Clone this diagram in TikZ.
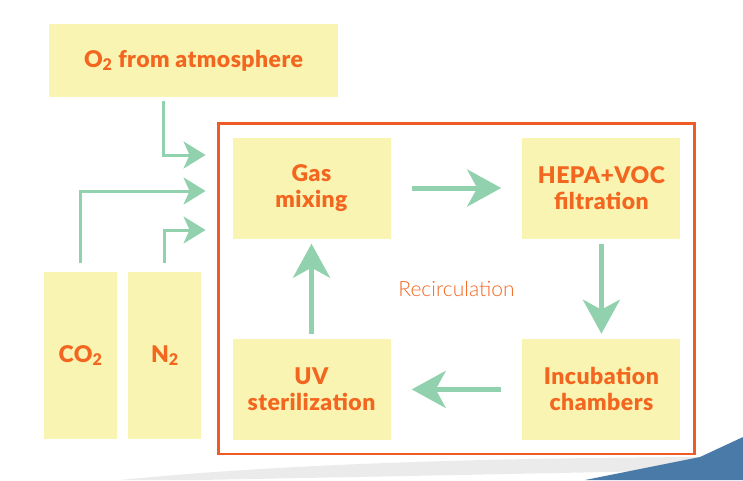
\documentclass[tikz,border=0pt]{standalone}
\usepackage{fontspec}
\setmainfont{Lato}
\newfontfamily\heavyfont[LetterSpace=2]{Lato Black}
\newfontfamily\lightfont{Lato Light}
\usepackage{xcolor}
\usetikzlibrary{arrows.meta, positioning, fit}

\definecolor{boxyellow}{HTML}{FAF4B2}
\definecolor{textorange}{HTML}{F2661F}
\definecolor{frameorange}{HTML}{EE5B24}
\definecolor{arrowgreen}{HTML}{92D1AE}
\definecolor{swooshblue}{HTML}{4A7BA8}

\begin{document}
\begin{tikzpicture}[
    x=1pt, y=-1pt,
    box/.style={rectangle, fill=boxyellow, minimum width=158pt, minimum height=101pt, align=center, text=textorange, font=\fontsize{23}{26}\heavyfont},
    tank/.style={box, minimum width=73pt, minimum height=167pt},
    frame/.style={rectangle, draw=frameorange, line width=2.5pt, inner sep=14pt},
    flow/.style={-{Stealth[length=34pt, width=37pt, inset=10pt]}, line width=5pt, draw=arrowgreen},
    feed/.style={-{Stealth[length=22pt, width=27pt, inset=6pt]}, line width=3pt, draw=arrowgreen}
]
    \useasboundingbox (0,0) rectangle (743,480);
    % slide background
    \fill[black!8] (120,480) .. controls (300,462) and (520,458) .. (700,457) -- (700,470) .. controls (520,474) and (300,478) .. (200,480) -- cycle;
    \fill[swooshblue] (585,480) -- (700,457) -- (743,437) -- (743,480) -- cycle;

    \node[box, minimum width=289pt, minimum height=73pt] (o2) at (193.5,60.5) {O\textsubscript{2} from atmosphere};
    \node[tank] (co2) at (80.5,355.5) {CO\textsubscript{2}};
    \node[tank, right=11pt of co2] (n2) {N\textsubscript{2}};

    \node[box] (gas) at (311.5,188) {Gas\\mixing};
    \node[box, right=131.5pt of gas] (hepa) {HEPA+VOC\\filtration};
    \node[box, below=100pt of hepa] (incub) {Incubation\\chambers};
    \node[box, below=100pt of gas] (uv) {UV\\sterilization};
    \node[frame, fit=(gas)(hepa)(incub)(uv)] (loop) {};
    \node[text=textorange, font=\fontsize{21}{23}\lightfont] (recirc) at (loop.center) {Recirculation};

    \coordinate (inlet) at ([xshift=-11.5pt]loop.west);

    \draw[feed] ([xshift=-30.5pt, yshift=-4pt]o2.south) |- (inlet |- 0,155);
    \draw[feed] ([yshift=9pt]co2.north) |- (inlet |- 0,191);
    \draw[feed] ([yshift=9pt]n2.north) |- (inlet |- 0,230);

    \draw[flow, shorten <=21pt, shorten >=21pt] (gas) -- (hepa);
    \draw[flow, shorten <=5pt, shorten >=5pt] (hepa) -- (incub);
    \draw[flow, shorten <=21pt, shorten >=21pt] (incub) -- (uv);
    \draw[flow, shorten <=5pt, shorten >=5pt] (uv) -- (gas);
\end{tikzpicture}
\end{document}
